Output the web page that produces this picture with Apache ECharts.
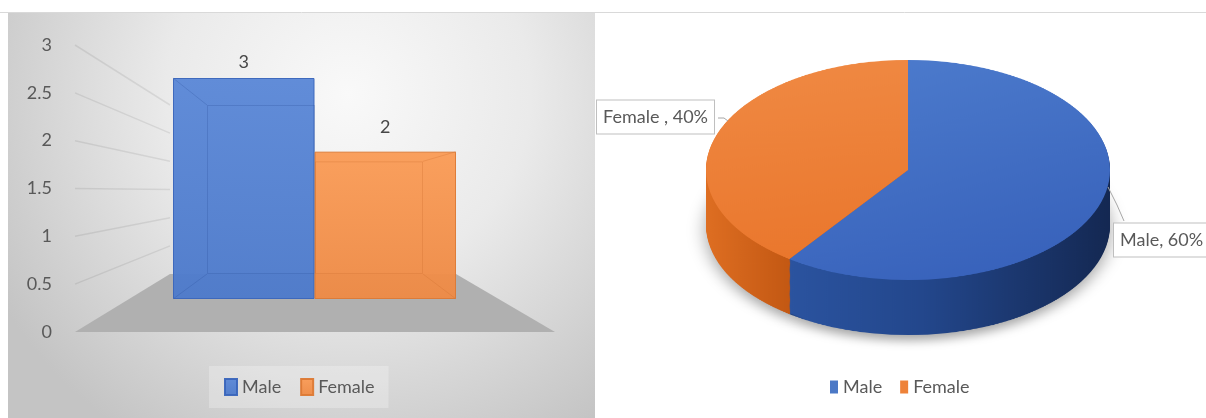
<!DOCTYPE html>
<html>
<head>
<meta charset="utf-8">
<script src="https://cdn.jsdelivr.net/npm/echarts@6/dist/echarts.min.js"></script>
<style>
html,body{margin:0;padding:0;width:1206px;height:418px;overflow:hidden;background:#fff;}
#pie{position:absolute;left:0;top:-200px;width:1206px;height:800px;transform:scaleY(0.545);transform-origin:0 370px;}
#main{position:absolute;left:0;top:0;width:1206px;height:418px;}
</style>
</head>
<body>
<div id="pie"></div>
<div id="main"></div>
<script>
// ---- data ----
const categories = ['Male', 'Female'];
const counts = [3, 2];
const yTicks = [0, 0.5, 1, 1.5, 2, 2.5, 3];
const pieLabelNames = ['Male', 'Female '];

// ---- styles / layout ----
const FONT = 'Lato, "Open Sans", "DejaVu Sans", sans-serif';
const TXT = '#595959';

// ===== 3D pie (scaled vertically to an ellipse) =====
const PIE_CX = 908, PIE_CY = 370, PIE_R = 202, DEPTH = 101, STEP = 2;
const topColors = [
  {type:'linear', x:0, y:0, x2:0.6, y2:1, colorStops:[{offset:0,color:'#4e7dce'},{offset:1,color:'#3862bb'}]},
  {type:'linear', x:0, y:0, x2:0.4, y2:1, colorStops:[{offset:0,color:'#f08a44'},{offset:1,color:'#ea772d'}]}
];
const sideColors = [
  {type:'linear', x:770, y:0, x2:1110, y2:0, global:true, colorStops:[{offset:0,color:'#2c55a2'},{offset:0.45,color:'#23478c'},{offset:1,color:'#142852'}]},
  {type:'linear', x:706, y:0, x2:790, y2:0, global:true, colorStops:[{offset:0,color:'#de6e22'},{offset:1,color:'#c35813'}]}
];
function pieLayer(cy, colors, shadow) {
  return {
    type: 'pie', center: [PIE_CX, cy], radius: [0, PIE_R],
    startAngle: 90, clockwise: true, silent: true, animation: false,
    label: {show: false}, labelLine: {show: false},
    itemStyle: Object.assign({borderWidth: 0}, shadow ? {shadowBlur: 18, shadowColor: 'rgba(0,0,0,0.35)', shadowOffsetY: 10} : {}),
    data: categories.map((c, i) => ({name: c, value: counts[i], itemStyle: {color: colors[i]}}))
  };
}
const pieSeries = [];
for (let k = DEPTH; k > 0; k -= STEP) pieSeries.push(pieLayer(PIE_CY + k, sideColors, k === DEPTH));
pieSeries.push(pieLayer(PIE_CY, topColors, false));
const pieChart = echarts.init(document.getElementById('pie'));
pieChart.setOption({animation: false, series: pieSeries});

// ===== main chart (bars, legends, labels) =====
const FRONT = {left: 173, top: 78, width: 283, height: 221};
const BACK = {left: 207, top: 105, width: 216, height: 169};
const frontFill = [
  {type:'linear', x:0, y:0, x2:0, y2:1, colorStops:[{offset:0,color:'#5b88d7'},{offset:1,color:'#4d7acb'}]},
  {type:'linear', x:0, y:0, x2:0, y2:1, colorStops:[{offset:0,color:'#fa9c57'},{offset:1,color:'#ee8a45'}]}
];
const frontBorder = ['#3a66bb', '#dd7a35'];
const backBorder = ['rgba(40,75,150,0.25)', 'rgba(205,110,45,0.3)'];
const labelDist = [7, 15];
const legendIcon = ['#4472c4', '#ed7d31'];

const main = echarts.init(document.getElementById('main'));
const yMin = yTicks[0], yMax = yTicks[yTicks.length - 1], yInt = yTicks[1] - yTicks[0];

const series = [];
categories.forEach((c, i) => {
  series.push({
    name: c, type: 'bar', xAxisIndex: 1, yAxisIndex: 1, data: [counts[i]],
    barGap: '0%', barCategoryGap: '0%', z: 3, silent: true,
    itemStyle: {color: frontFill[i], borderColor: frontBorder[i], borderWidth: 1, opacity: 0.96},
    label: {show: true, position: 'top', distance: labelDist[i], fontSize: 18, color: '#404040', fontFamily: FONT}
  });
});
categories.forEach((c, i) => {
  series.push({
    name: c + ' back', type: 'bar', xAxisIndex: 2, yAxisIndex: 2, data: [counts[i]],
    barGap: '0%', barCategoryGap: '0%', z: 4, silent: true,
    itemStyle: {color: 'rgba(0,0,0,0)', borderColor: backBorder[i], borderWidth: 1}
  });
});
series.push({
  name: 'pieLabels', type: 'pie', center: [PIE_CX, 170], radius: [0, PIE_R],
  startAngle: 90, clockwise: true, silent: true, z: 6,
  itemStyle: {color: 'rgba(0,0,0,0)', borderWidth: 0},
  data: pieLabelNames.map((n, i) => ({name: n, value: counts[i]})),
  label: {
    show: true, formatter: '{b}, {d}%', fontSize: 18, color: TXT, fontFamily: FONT, overflow: 'none',
    backgroundColor: '#fff', borderColor: '#bfbfbf', borderWidth: 1, padding: [8, 6, 7, 6]
  },
  labelLine: {show: true, lineStyle: {color: '#a6a6a6', width: 1}},
  labelLayout: function (p) {
    if (p.dataIndex === 0) {
      return {x: 1114, y: 240, align: 'left', verticalAlign: 'middle', width: 200,
        labelLinePoints: [[1108, 187], [1117, 205], [1124, 221]]};
    }
    return {x: 597, y: 117, align: 'left', verticalAlign: 'middle',
      labelLinePoints: [[728, 121], [724, 118], [718, 118]]};
  }
});

main.setOption({
  animation: false,
  textStyle: {fontFamily: FONT},
  grid: [
    {left: 60, top: 45, width: 10, height: 287},
    Object.assign({}, FRONT),
    Object.assign({}, BACK)
  ],
  xAxis: [
    {gridIndex: 0, type: 'value', show: false},
    {gridIndex: 1, type: 'category', data: [''], show: false},
    {gridIndex: 2, type: 'category', data: [''], show: false}
  ],
  yAxis: [
    {gridIndex: 0, type: 'value', min: yMin, max: yMax, interval: yInt,
      axisLine: {show: false}, axisTick: {show: false}, splitLine: {show: false},
      axisLabel: {color: TXT, fontSize: 18, margin: 8, fontFamily: FONT}},
    {gridIndex: 1, type: 'value', min: yMin, max: yMax, show: false, splitLine: {show: false}},
    {gridIndex: 2, type: 'value', min: yMin, max: yMax, show: false, splitLine: {show: false}}
  ],
  legend: [
    {data: categories, left: 209, top: 366, padding: [12, 14, 12, 15],
      backgroundColor: 'rgba(255,255,255,0.25)', itemWidth: 12, itemHeight: 16, itemGap: 19,
      icon: 'rect', selectedMode: false,
      textStyle: {fontSize: 18, color: TXT, fontFamily: FONT}},
    {data: categories.map((c, i) => ({name: c, itemStyle: {color: legendIcon[i], borderWidth: 0}})),
      left: 830, top: 378, padding: 0, itemWidth: 8, itemHeight: 13, itemGap: 18,
      icon: 'rect', selectedMode: false,
      textStyle: {fontSize: 18, color: TXT, fontFamily: FONT}}
  ],
  series: series
});

// decorations computed from the axes
const yL = v => main.convertToPixel({yAxisIndex: 0}, v);
const yF = v => main.convertToPixel({yAxisIndex: 1}, v);
const yB = v => main.convertToPixel({yAxisIndex: 2}, v);
const FL = FRONT.left, FR = FRONT.left + FRONT.width;
const BL = BACK.left, BR = BACK.left + BACK.width;
const graphics = [];
graphics.push({type: 'rect', z: -10, silent: true,
  shape: {x: 8, y: 13, width: 587, height: 405},
  style: {fill: {type: 'radial', x: 0.58, y: 0.2, r: 1.0,
    colorStops: [{offset: 0, color: '#f9f9f9'}, {offset: 0.45, color: '#eaeaea'}, {offset: 1, color: '#c4c4c4'}]}}});
graphics.push({type: 'line', z: -9, silent: true, shape: {x1: 0, y1: 12.5, x2: 1206, y2: 12.5},
  style: {stroke: '#d9d9d9', lineWidth: 1}});
yTicks.slice(1).forEach(v => {
  graphics.push({type: 'line', z: -8, silent: true,
    shape: {x1: 75, y1: yL(v), x2: 170, y2: yB(v)},
    style: {stroke: 'rgba(0,0,0,0.08)', lineWidth: 1.5}});
});
graphics.push({type: 'polygon', z: -7, silent: true,
  shape: {points: [[75, yL(0)], [555, yL(0)], [FR, yB(0)], [170, yB(0)]]},
  style: {fill: '#b0b0b0'}});
// 3D box edges
[[FL, yF(counts[0]), BL, yB(counts[0]), 0], [FL, yF(0), BL, yB(0), 0],
 [FR, yF(counts[1]), BR, yB(counts[1]), 1], [FR, yF(0), BR, yB(0), 1]].forEach(e => {
  graphics.push({type: 'line', z: 5, silent: true, shape: {x1: e[0], y1: e[1], x2: e[2], y2: e[3]},
    style: {stroke: backBorder[e[4]], lineWidth: 1}});
});
main.setOption({graphic: graphics});
</script>
</body>
</html>
